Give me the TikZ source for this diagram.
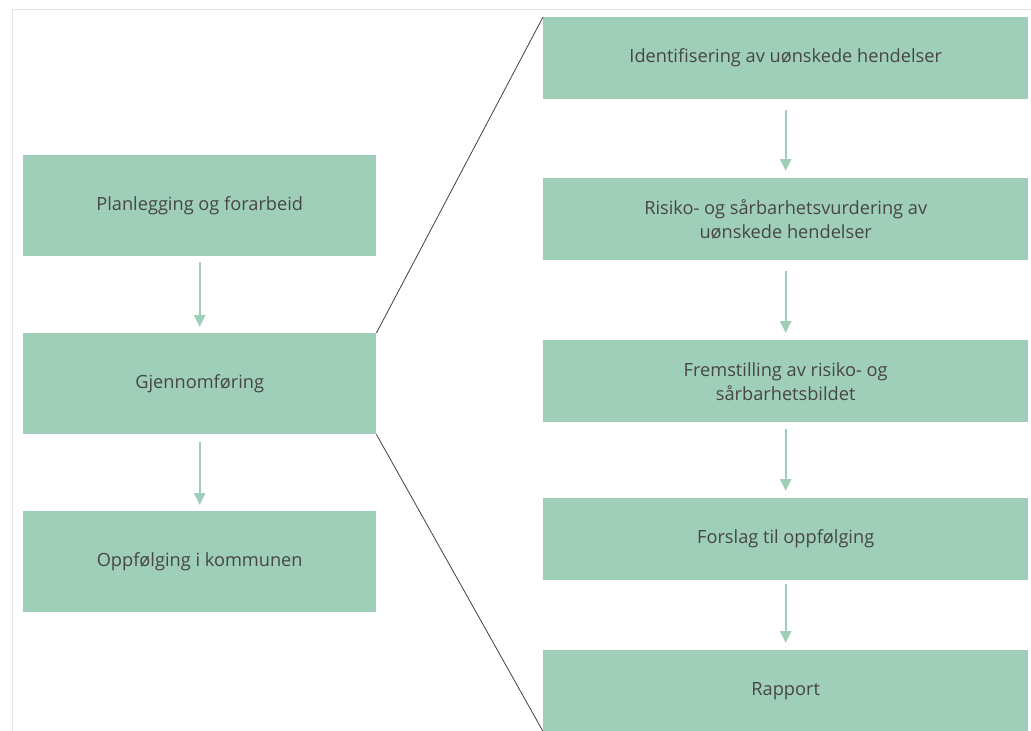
\documentclass[tikz,border=0pt]{standalone}
\usepackage{fontspec}
\setmainfont{Open Sans}
\usetikzlibrary{arrows.meta}

\definecolor{boxgreen}{RGB}{160,207,185}
\definecolor{textgray}{RGB}{70,70,70}

\begin{document}
\begin{tikzpicture}[x=1pt,y=-1pt]
        % Define styles
        \tikzset{
            step_box/.style={rectangle, fill=boxgreen, inner sep=0pt, anchor=north west,
                text=textgray, align=center, font=\fontsize{18.2}{24}\selectfont},
            left_box/.style={step_box, minimum width=353pt, minimum height=101pt},
            right_box/.style={step_box, minimum width=485pt, minimum height=82pt},
            arrow/.style={-{Triangle[length=12pt,width=11pt]}, boxgreen, line width=2.2pt},
            zoom_line/.style={draw=black!75, line width=0.8pt}
        }
        \useasboundingbox (0,0) rectangle (1031,731);

        % Frame
        \draw[gray!20, line width=1pt] (12,731) -- (12,9.5) -- (1031,9.5);

        % Left column
        \node[left_box] (plan_node) at (23,155) {Planlegging og forarbeid};
        \node[left_box] (exec_node) at (23,333) {Gjennomføring};
        \node[left_box] (follow_node) at (23,511) {Oppfølging i kommunen};

        % Right column
        \node[right_box] (step_node_1) at (543,17) {Identifisering av uønskede hendelser};
        \node[right_box] (step_node_2) at (543,178) {Risiko- og sårbarhetsvurdering av\\uønskede hendelser};
        \node[right_box] (step_node_3) at (543,340) {Fremstilling av risiko- og\\sårbarhetsbildet};
        \node[right_box] (step_node_4) at (543,498) {Forslag til oppfølging};
        \node[right_box, minimum height=81pt] (step_node_5) at (543,650) {Rapport};

        % Arrows
        \draw[arrow, shorten <=6pt, shorten >=6pt] (plan_node) -- (exec_node);
        \draw[arrow, shorten <=8pt, shorten >=6pt] (exec_node) -- (follow_node);
        \draw[arrow, shorten <=11pt, shorten >=7pt] (step_node_1) -- (step_node_2);
        \draw[arrow, shorten <=11pt, shorten >=7pt] (step_node_2) -- (step_node_3);
        \draw[arrow, shorten <=7pt, shorten >=7pt] (step_node_3) -- (step_node_4);
        \draw[arrow, shorten <=4pt, shorten >=7pt] (step_node_4) -- (step_node_5);

        % Zoom lines
        \draw[zoom_line] (exec_node.north east) -- (step_node_1.north west);
        \draw[zoom_line] (exec_node.south east) -- (step_node_5.south west);
    \end{tikzpicture}
\end{document}
